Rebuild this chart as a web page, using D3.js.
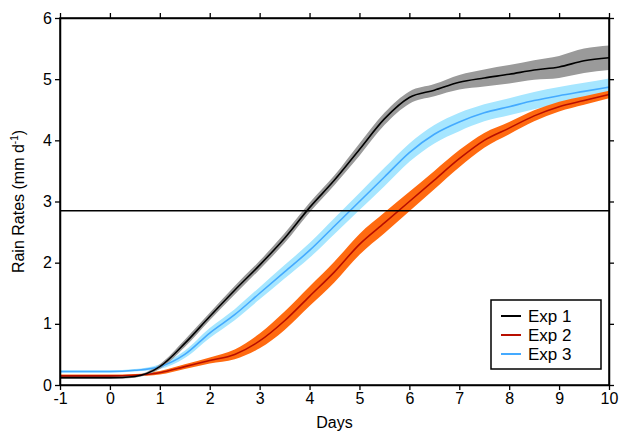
<!DOCTYPE html>
<html><head><meta charset="utf-8">
<script src="https://cdn.jsdelivr.net/npm/d3@7"></script>
<style>body{margin:0;background:#fff}text{font-family:"Liberation Sans",Arial,sans-serif}</style>
</head><body><svg id="c" width="619" height="431"></svg>
<script>
const days = [-1,0,0.5,1,1.5,2,2.5,3,3.5,4,4.5,5,5.5,6,6.5,7,7.5,8,8.5,9,9.5,10]
const exp1 = [0.12,0.12,0.14,0.3,0.68,1.12,1.55,1.96,2.4,2.9,3.35,3.85,4.35,4.7,4.82,4.95,5.02,5.08,5.15,5.2,5.3,5.35]
const exp1Spread = [0.02,0.02,0.02,0.04,0.06,0.06,0.07,0.07,0.08,0.08,0.08,0.1,0.1,0.1,0.1,0.12,0.14,0.15,0.16,0.18,0.2,0.2]
const exp2 = [0.15,0.15,0.16,0.2,0.3,0.4,0.5,0.72,1.05,1.45,1.85,2.3,2.65,3.0,3.35,3.7,4.0,4.2,4.4,4.55,4.65,4.75]
const exp2Spread = [0.02,0.02,0.02,0.03,0.04,0.05,0.08,0.12,0.15,0.16,0.17,0.17,0.17,0.16,0.15,0.14,0.12,0.1,0.09,0.08,0.07,0.06]
const exp3 = [0.22,0.22,0.24,0.3,0.5,0.85,1.15,1.5,1.85,2.2,2.6,3.0,3.4,3.8,4.1,4.3,4.45,4.55,4.65,4.73,4.8,4.87]
const exp3Spread = [0.02,0.02,0.02,0.04,0.06,0.08,0.09,0.1,0.11,0.12,0.13,0.14,0.15,0.15,0.15,0.15,0.14,0.14,0.14,0.14,0.14,0.14]
const xTicks = [-1,0,1,2,3,4,5,6,7,8,9,10]
const yTicks = [0,1,2,3,4,5,6]
const refLine = 2.85

const series = [
  {name:'Exp 1', vals:exp1, spread:exp1Spread, line:'#000000', band:'#9a9a9a'},
  {name:'Exp 2', vals:exp2, spread:exp2Spread, line:'#b80e00', band:'#ff6a10'},
  {name:'Exp 3', vals:exp3, spread:exp3Spread, line:'#44aaff', band:'#a6e6ff'}
]

const svg = d3.select('#c')
const L = 60, R = 609, T = 18, B = 385
const x = d3.scaleLinear().domain([-1,10]).range([L,R])
const y = d3.scaleLinear().domain([0,6]).range([B,T])

const area = s => d3.area().curve(d3.curveMonotoneX)
  .x((d,i) => x(days[i])).y0((d,i) => y(d - s.spread[i])).y1((d,i) => y(d + s.spread[i]))
const line = d3.line().curve(d3.curveMonotoneX).x((d,i) => x(days[i])).y(d => y(d))

// bands first, then lines
series.slice().reverse().forEach(s => {
  svg.append('path').attr('d', area(s)(s.vals)).attr('fill', s.band)
})
series.slice().reverse().forEach(s => {
  svg.append('path').attr('d', line(s.vals)).attr('fill','none').attr('stroke', s.line).attr('stroke-width',1.6)
})

svg.append('line').attr('x1',L).attr('x2',R).attr('y1',y(refLine)).attr('y2',y(refLine))
  .attr('stroke','#000').attr('stroke-width',1.5)

// axes
const fmt = d => String(d)
svg.append('g').attr('transform','translate(0,'+B+')')
  .call(d3.axisBottom(x).tickValues(xTicks).tickFormat(fmt).tickSize(5).tickSizeOuter(0))
svg.append('g').attr('transform','translate(0,'+T+')')
  .call(d3.axisTop(x).tickValues(xTicks).tickFormat('').tickSize(5).tickSizeOuter(0))
svg.append('g').attr('transform','translate('+L+',0)')
  .call(d3.axisLeft(y).tickValues(yTicks).tickFormat(fmt).tickSize(5).tickSizeOuter(0))
svg.append('g').attr('transform','translate('+R+',0)')
  .call(d3.axisRight(y).tickValues(yTicks).tickFormat('').tickSize(5).tickSizeOuter(0))
svg.selectAll('.domain').attr('stroke','#000').attr('stroke-width',1.5)
svg.selectAll('.tick line').attr('stroke-width',1.3)
svg.selectAll('.tick text').attr('font-size',16).attr('fill','#000')
svg.append('rect').attr('x',L).attr('y',T).attr('width',R-L).attr('height',B-T)
  .attr('fill','none').attr('stroke','#000').attr('stroke-width',1.5)

svg.append('text').attr('x',(L+R)/2).attr('y',428).attr('text-anchor','middle').attr('font-size',16).text('Days')
const yl = svg.append('text').attr('transform','translate(24,'+((T+B)/2)+') rotate(-90)')
  .attr('text-anchor','middle').attr('font-size',16).text('Rain Rates (mm d')
yl.append('tspan').attr('font-size',10).attr('dy',-6).text('-1')
yl.append('tspan').attr('dy',6).text(')')

// legend
const lg = svg.append('g').attr('transform','translate(491,300)')
lg.append('rect').attr('width',110).attr('height',69).attr('fill','#fff').attr('stroke','#000').attr('stroke-width',1.5)
series.forEach((s,i) => {
  lg.append('line').attr('x1',10).attr('x2',30).attr('y1',16+i*19).attr('y2',16+i*19).attr('stroke',s.line).attr('stroke-width',2)
  lg.append('text').attr('x',37).attr('y',22+i*19).attr('font-size',17).text(s.name)
})
</script></body></html>
